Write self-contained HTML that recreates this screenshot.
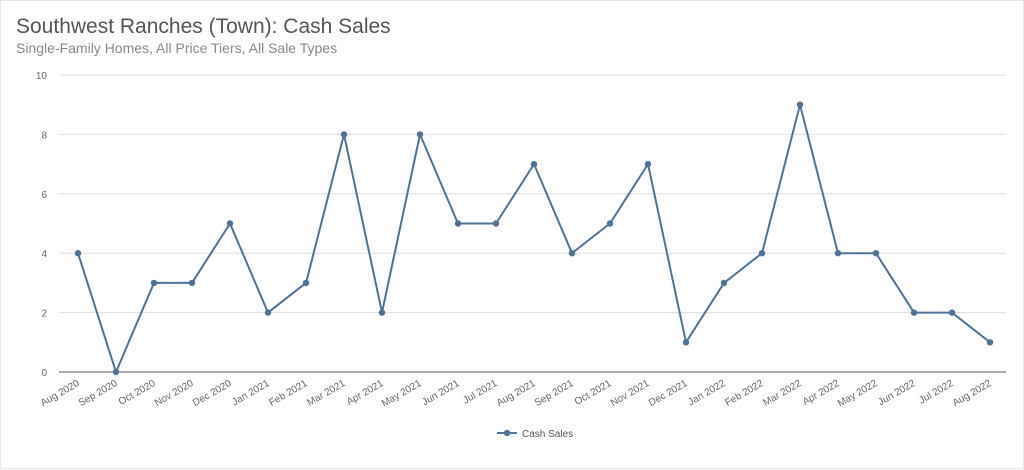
<!DOCTYPE html>
<html><head><meta charset="utf-8"><style>
body{margin:0;background:#fff;}
#wrap{position:relative;width:1022px;height:467px;border:1px solid #e6e6e6;background:#fff;font-family:"Liberation Sans",sans-serif;}
#title{position:absolute;left:15px;top:14px;font-size:21px;color:#555;}
#sub{position:absolute;left:15px;top:39px;font-size:14px;color:#888;}
svg{position:absolute;left:0;top:0;}
</style></head><body>
<div id="wrap">
<div id="title">Southwest Ranches (Town): Cash Sales</div>
<div id="sub">Single-Family Homes, All Price Tiers, All Sale Types</div>
<svg id="chart" width="1024" height="469"></svg>
</div>
<script>
const categories=["Aug 2020","Sep 2020","Oct 2020","Nov 2020","Dec 2020","Jan 2021","Feb 2021","Mar 2021","Apr 2021","May 2021","Jun 2021","Jul 2021","Aug 2021","Sep 2021","Oct 2021","Nov 2021","Dec 2021","Jan 2022","Feb 2022","Mar 2022","Apr 2022","May 2022","Jun 2022","Jul 2022","Aug 2022"];
const cashSales=[4,0,3,3,5,2,3,8,2,8,5,5,7,4,5,7,1,3,4,9,4,4,2,2,1];
const yTicks=[0,2,4,6,8,10];
const svg=document.getElementById('chart');
const NS='http://www.w3.org/2000/svg';
const x=i=>77+i*(989-77)/(categories.length-1);
const y=v=>371-v*(371-74)/10;
function mk(t,a){const e=document.createElementNS(NS,t);for(const k in a)e.setAttribute(k,a[k]);svg.appendChild(e);return e;}
yTicks.forEach(v=>{
  const g=mk('line',{x1:58,x2:1005,y1:y(v),y2:y(v),stroke:v===0?'#555':'#ddd','stroke-width':1});
  
  
  const t=mk('text',{x:46,y:y(v)+4,'text-anchor':'end','font-size':10,fill:'#666','font-family':'Liberation Sans, sans-serif'});
  t.textContent=v;
  
  
});
categories.forEach((c,i)=>{
  const t=mk('text',{x:x(i)+2,y:384,'text-anchor':'end','font-size':10,fill:'#666','font-family':'Liberation Sans, sans-serif',transform:`rotate(-30 ${x(i)+2} 384)`});
  t.textContent=c;
  
  
});
const p=mk('polyline',{points:cashSales.map((v,i)=>x(i)+','+y(v)).join(' '),fill:'none',stroke:'#4f7396','stroke-width':2});


cashSales.forEach((v,i)=>{
  const c=mk('circle',{cx:x(i),cy:y(v),r:3.2,fill:'#4f7396'});
  
  
});
const ll=mk('line',{x1:496,x2:516,y1:432,y2:432,stroke:'#4f7396','stroke-width':2});


const lc=mk('circle',{cx:506,cy:432,r:3.2,fill:'#4f7396'});


const lt=mk('text',{x:521,y:436,'font-size':10,fill:'#555','font-family':'Liberation Sans, sans-serif'});
lt.textContent='Cash Sales';


</script>
</body></html>
